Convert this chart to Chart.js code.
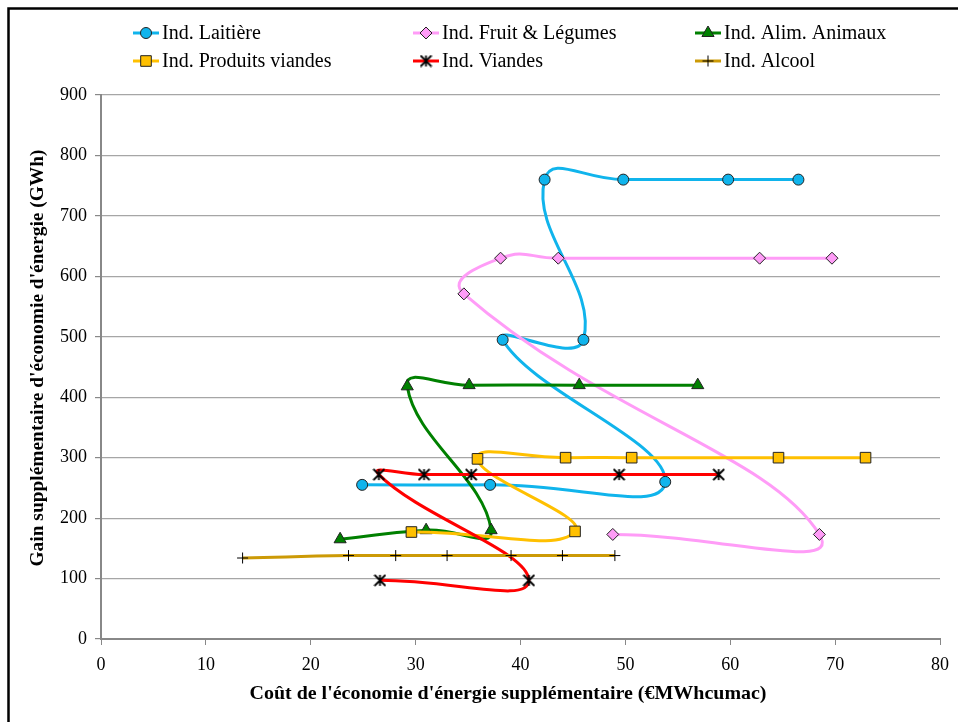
<!DOCTYPE html>
<html>
<head>
<meta charset="utf-8">
<script src="https://cdn.jsdelivr.net/npm/chart.js@4.4.1/dist/chart.umd.min.js"></script>
<style>
  html, body { margin: 0; padding: 0; background: #fff; }
  #chart { display: block; }
</style>
</head>
<body>
<canvas id="chart" width="958" height="722"></canvas>
<script>
const seriesNames = [
    'Ind. Laitière',
    'Ind. Fruit & Légumes',
    'Ind. Alim. Animaux',
    'Ind. Produits viandes',
    'Ind. Viandes',
    'Ind. Alcool'
];

// x : coût (€/MWhcumac), y : gain (GWh)
const laitiereX = [24.9, 37.1, 53.8, 38.3, 46.0, 42.3, 49.8, 59.8, 66.5];
const laitiereY = [255, 255, 260, 495, 495, 760, 760, 760, 760];

const fruitX = [48.8, 68.5, 34.6, 38.1, 43.6, 62.8, 69.7];
const fruitY = [173, 173, 571, 630, 630, 630, 630];

const animauxX = [22.8, 31.0, 37.2, 29.2, 35.1, 45.6, 56.9];
const animauxY = [165, 180, 180, 418, 420, 420, 420];

const prodViandesX = [29.6, 45.2, 35.9, 44.3, 50.6, 64.6, 72.9];
const prodViandesY = [177, 178, 298, 300, 300, 300, 300];

const viandesX = [26.6, 40.8, 26.5, 30.8, 35.3, 49.4, 58.9];
const viandesY = [97, 97, 272, 272, 272, 272, 272];

const alcoolX = [13.5, 23.6, 28.1, 33.0, 39.1, 44.0, 49.0];
const alcoolY = [134, 138, 138, 138, 138, 138, 138];

const xTicks = [0, 10, 20, 30, 40, 50, 60, 70, 80];
const yTicks = [0, 100, 200, 300, 400, 500, 600, 700, 800, 900];

const xTitle = "Coût de l'économie d'énergie supplémentaire (€MWhcumac)";
const yTitle = "Gain supplémentaire d'économie d'énergie (GWh)";

const colors = ['#10b4ec', '#ff9cf7', '#008000', '#ffc000', '#ff0000', '#cc9a06'];
const markers = ['circle', 'rectRot', 'triangle', 'rect', 'star6', 'cross'];
const radii = [5.5, 6, 7, 7.5, 6, 5.5];

const serif = '"Liberation Serif", "Times New Roman", serif';

// asterisk marker (X + vertical bar) like the Excel star
function makeStar(size) {
    let c = document.createElement('canvas');
    c.width = size; c.height = size;
    let g = c.getContext('2d');
    let m = size / 2, r = size / 2 - 1;
    g.strokeStyle = '#000';
    g.lineWidth = 1.8;
    g.beginPath();
    g.moveTo(m - r, m - r); g.lineTo(m + r, m + r);
    g.moveTo(m + r, m - r); g.lineTo(m - r, m + r);
    g.moveTo(m, m - r); g.lineTo(m, m + r);
    g.stroke();
    return c;
}
const starImg = makeStar(13);

function toPoints(xs, ys) {
    return xs.map((x, i) => ({x: x, y: ys[i]}));
}

const allX = [laitiereX, fruitX, animauxX, prodViandesX, viandesX, alcoolX];
const allY = [laitiereY, fruitY, animauxY, prodViandesY, viandesY, alcoolY];

const datasets = seriesNames.map((name, i) => ({
    label: name,
    data: toPoints(allX[i], allY[i]),
    showLine: true,
    borderColor: colors[i],
    borderWidth: 3,
    tension: 0.5,
    pointStyle: markers[i] === 'star6' ? starImg : markers[i],
    pointRadius: radii[i],
    pointBackgroundColor: colors[i],
    pointBorderColor: i === 5 ? '#000' : '#222',
    pointBorderWidth: 1,
    order: 6 - i
}));

function drawMarker(g, i, x, y) {
    let r = radii[i];
    g.save();
    g.fillStyle = colors[i];
    g.strokeStyle = '#222';
    g.lineWidth = 1;
    g.beginPath();
    if (markers[i] === 'circle') {
        g.arc(x, y, r, 0, Math.PI * 2);
        g.fill(); g.stroke();
    } else if (markers[i] === 'rectRot') {
        g.moveTo(x, y - r); g.lineTo(x + r, y); g.lineTo(x, y + r); g.lineTo(x - r, y); g.closePath();
        g.fill(); g.stroke();
    } else if (markers[i] === 'triangle') {
        g.moveTo(x, y - r); g.lineTo(x + r * 0.87, y + r * 0.5); g.lineTo(x - r * 0.87, y + r * 0.5); g.closePath();
        g.fill(); g.stroke();
    } else if (markers[i] === 'rect') {
        let s = r / Math.SQRT2;
        g.rect(x - s, y - s, 2 * s, 2 * s);
        g.fill(); g.stroke();
    } else if (markers[i] === 'star6') {
        g.drawImage(starImg, x - starImg.width / 2, y - starImg.height / 2);
    } else {
        g.strokeStyle = '#000';
        g.moveTo(x - r, y); g.lineTo(x + r, y);
        g.moveTo(x, y - r); g.lineTo(x, y + r);
        g.stroke();
    }
    g.restore();
}

const decorPlugin = {
    id: 'decor',
    afterDraw(chart) {
        let g = chart.ctx;
        g.save();

        // frame (left and top edges)
        g.strokeStyle = '#000';
        g.lineWidth = 2.5;
        g.beginPath();
        g.moveTo(8.5, 722);
        g.lineTo(8.5, 8.5);
        g.lineTo(958, 8.5);
        g.stroke();

        // legend, 3 columns x 2 rows
        let colX = [133, 413, 695];
        let rowY = [33, 61];
        g.font = '20px ' + serif;
        g.textBaseline = 'middle';
        g.fillStyle = '#000';
        seriesNames.forEach((name, i) => {
            let x = colX[i % 3], y = rowY[Math.floor(i / 3)];
            g.strokeStyle = colors[i];
            g.lineWidth = 3;
            g.beginPath();
            g.moveTo(x, y); g.lineTo(x + 26, y);
            g.stroke();
            drawMarker(g, i, x + 13, y);
            g.fillStyle = '#000';
            g.textAlign = 'left';
            g.fillText(name, x + 29, y + 1);
        });

        // axis titles, squeezed to the reference widths
        g.font = 'bold 19px ' + serif;
        g.textAlign = 'center';
        g.textBaseline = 'middle';
        let w = g.measureText(xTitle).width;
        g.save();
        g.translate(508, 694);
        g.scale(517 / w, 1);
        g.fillText(xTitle, 0, 0);
        g.restore();

        w = g.measureText(yTitle).width;
        g.save();
        g.translate(38, 358);
        g.rotate(-Math.PI / 2);
        g.scale(417 / w, 1);
        g.fillText(yTitle, 0, 0);
        g.restore();

        g.restore();
    }
};

let ctx = document.getElementById('chart').getContext('2d');
let chart = new Chart(ctx, {
    type: 'scatter',
    data: { datasets: datasets },
    options: {
        responsive: false,
        animation: false,
        layout: { padding: { top: 95, right: 16, left: 0, bottom: 0 } },
        plugins: {
            legend: { display: false },
            tooltip: { enabled: false }
        },
        scales: {
            x: {
                type: 'linear',
                min: 0,
                max: 80,
                afterBuildTicks: (s) => { s.ticks = xTicks.map(v => ({value: v})); },
                afterFit: (s) => { s.height = 83; },
                ticks: {
                    color: '#000',
                    font: { family: serif, size: 18 },
                    padding: 9
                },
                grid: {
                    drawOnChartArea: false,
                    drawTicks: true,
                    tickLength: 6,
                    tickColor: '#888'
                },
                border: { color: '#888', width: 2 }
            },
            y: {
                type: 'linear',
                min: 0,
                max: 900,
                afterBuildTicks: (s) => { s.ticks = yTicks.map(v => ({value: v})); },
                afterFit: (s) => { s.width = 101; },
                ticks: {
                    color: '#000',
                    font: { family: serif, size: 18 },
                    padding: 8
                },
                grid: {
                    color: '#a6a6a6',
                    lineWidth: 1.2,
                    tickLength: 6,
                    tickColor: '#888'
                },
                border: { color: '#888', width: 2 }
            }
        }
    },
    plugins: [decorPlugin]
});
</script>
</body>
</html>
